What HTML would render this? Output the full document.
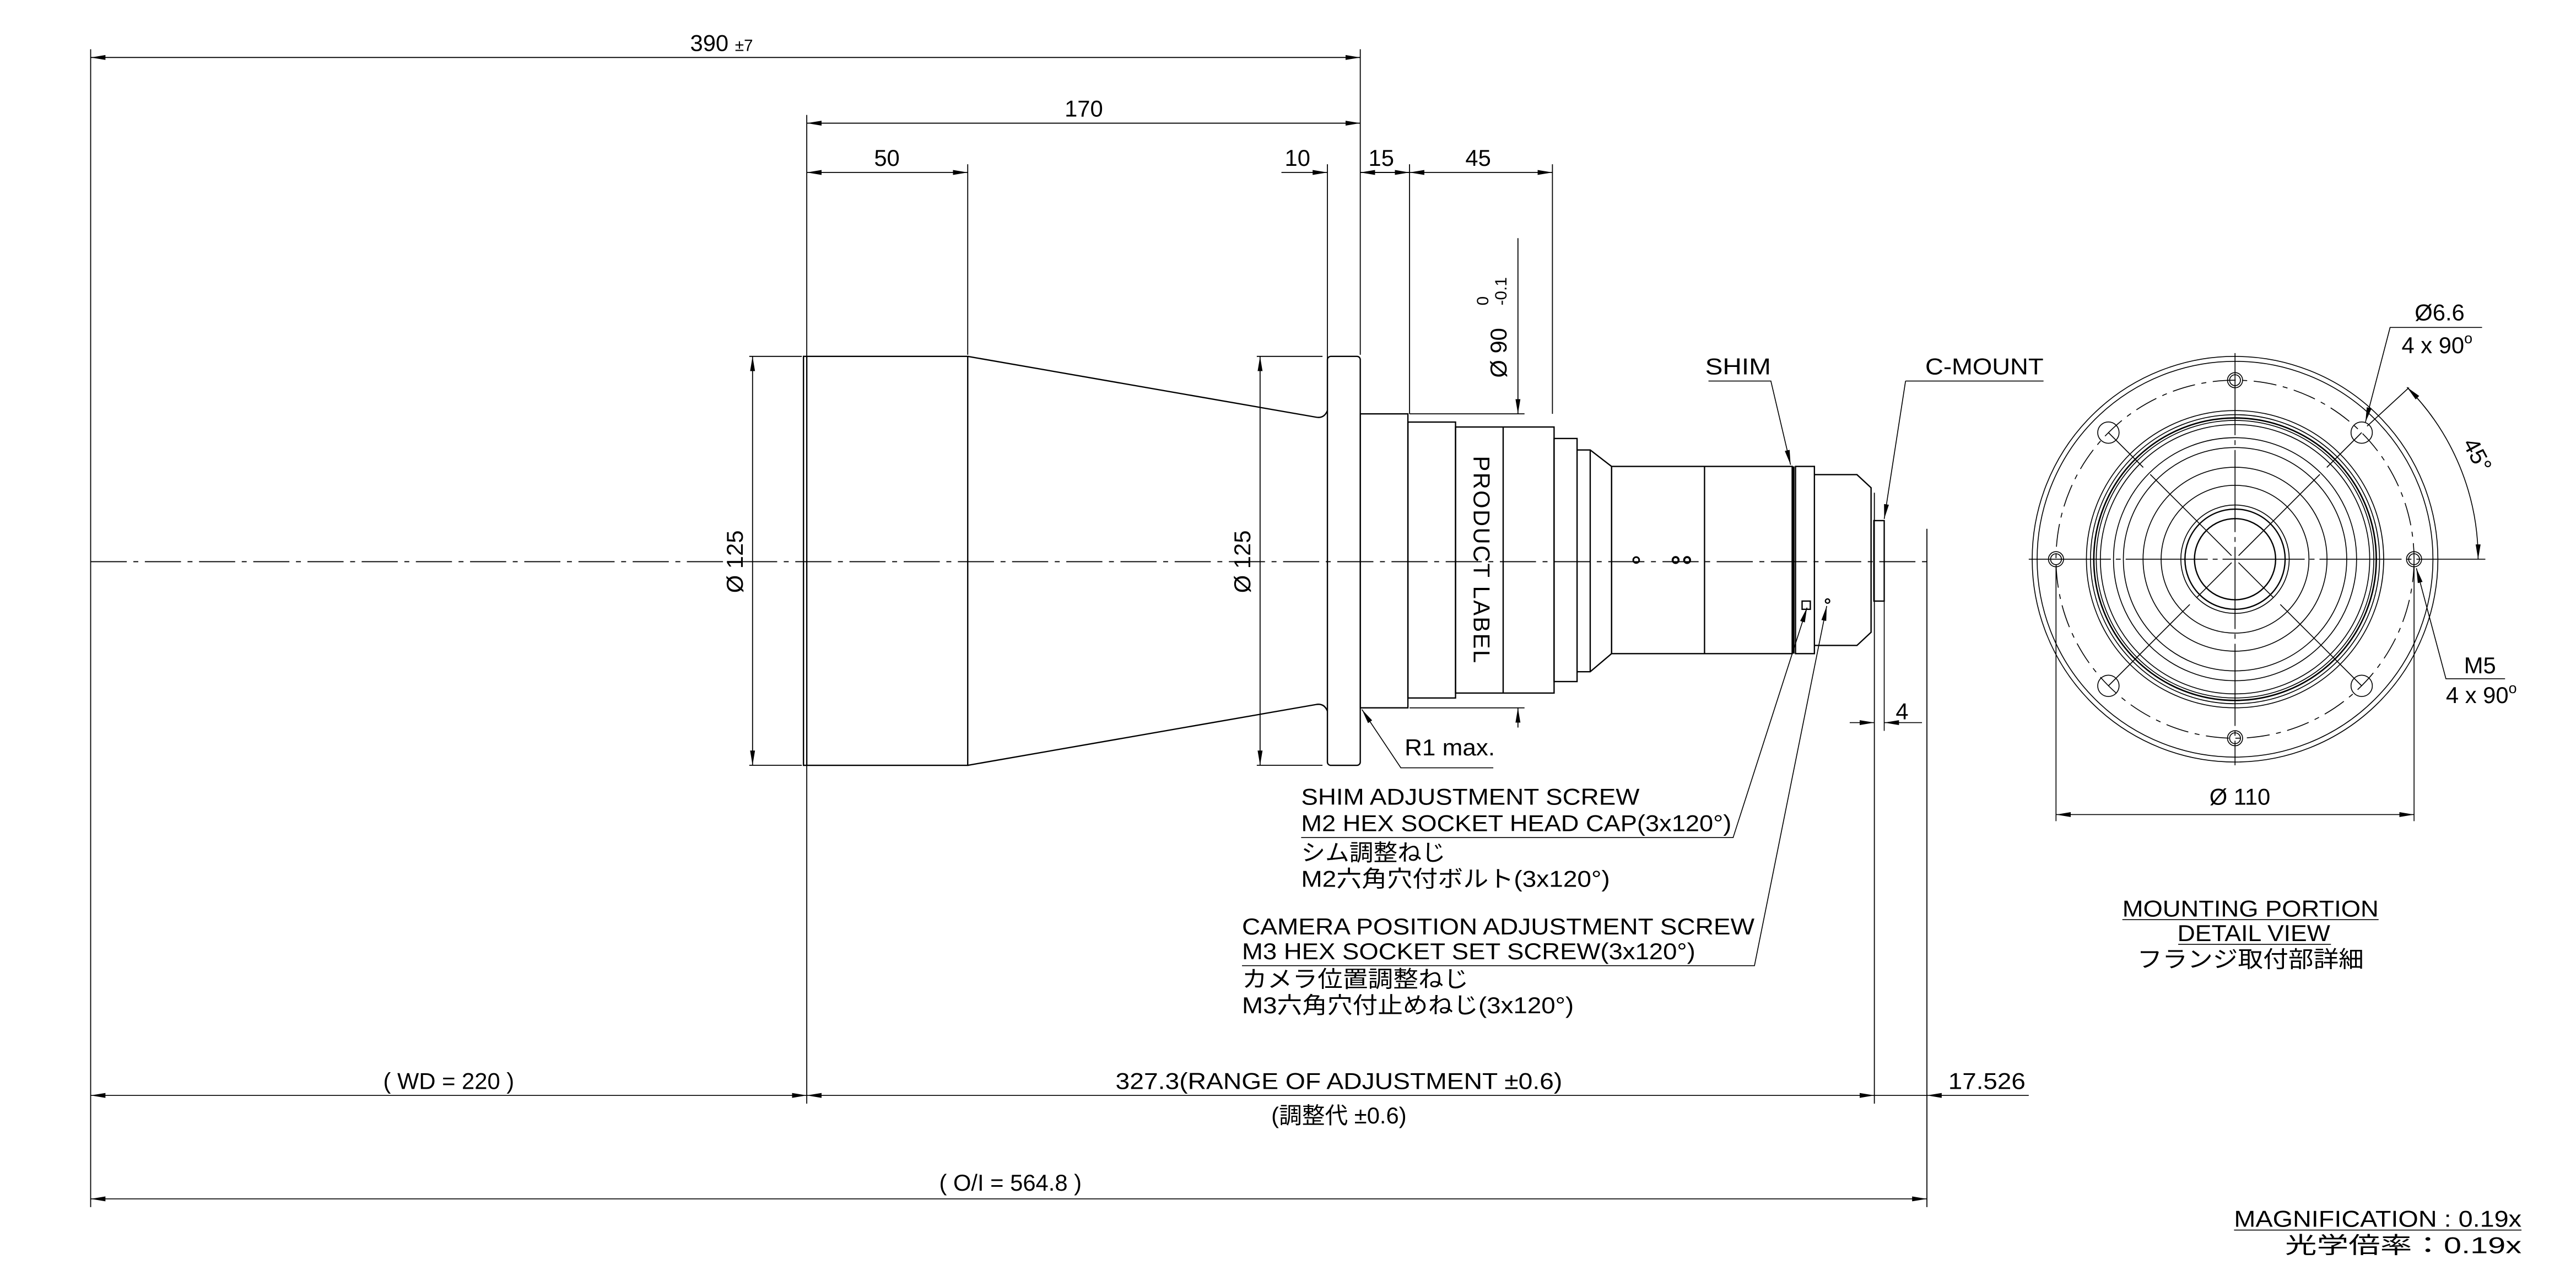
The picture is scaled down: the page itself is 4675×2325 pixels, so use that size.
<!DOCTYPE html>
<html><head><meta charset="utf-8"><style>
html,body{margin:0;padding:0;background:#fff;}
svg{display:block;}
text{font-family:"Liberation Sans","Noto Sans CJK JP",sans-serif;fill:#000;}
</style></head><body>
<svg xmlns="http://www.w3.org/2000/svg" width="4675" height="2325" viewBox="0 0 1568 780">
<defs>
<marker id="a" markerUnits="userSpaceOnUse" markerWidth="10" markerHeight="4" refX="9" refY="2" orient="auto-start-reverse"><path d="M0,0.5 L9,2 L0,3.5 Z" fill="#000"/></marker>
</defs>
<rect width="1568" height="780" fill="#fff"/>
<g stroke="#000" stroke-width="0.6" fill="none">
<line x1="55" y1="342" x2="1175" y2="342" stroke-dasharray="22,4,3,4"/>
<line x1="55" y1="30" x2="55" y2="735"/>
<line x1="828" y1="30" x2="828" y2="216"/>
<line x1="491" y1="70" x2="491" y2="672"/>
<line x1="589" y1="100" x2="589" y2="216"/>
<line x1="808" y1="100" x2="808" y2="250"/>
<line x1="858" y1="100" x2="858" y2="252"/>
<line x1="945" y1="100" x2="945" y2="252"/>
<line x1="1141" y1="300" x2="1141" y2="672"/>
<line x1="1173" y1="322" x2="1173" y2="735"/>
<line x1="55" y1="35" x2="828" y2="35" marker-start="url(#a)" marker-end="url(#a)"/>
<line x1="491" y1="75" x2="828" y2="75" marker-start="url(#a)" marker-end="url(#a)"/>
<line x1="491" y1="105" x2="589" y2="105" marker-start="url(#a)" marker-end="url(#a)"/>
<line x1="780" y1="105" x2="808" y2="105" marker-end="url(#a)"/>
<line x1="828" y1="105" x2="845" y2="105" marker-start="url(#a)"/>
<line x1="828" y1="105" x2="858" y2="105"/>
<line x1="858" y1="105" x2="945" y2="105" marker-start="url(#a)" marker-end="url(#a)"/>
<line x1="845" y1="105" x2="858" y2="105" marker-end="url(#a)"/>
<line x1="456" y1="217" x2="488" y2="217"/><line x1="456" y1="466" x2="488" y2="466"/>
<line x1="458" y1="217" x2="458" y2="466" marker-start="url(#a)" marker-end="url(#a)"/>
<line x1="765" y1="217" x2="805" y2="217"/><line x1="765" y1="466" x2="805" y2="466"/>
<line x1="767" y1="217" x2="767" y2="466" marker-start="url(#a)" marker-end="url(#a)"/>
<line x1="858" y1="252" x2="928" y2="252"/><line x1="858" y1="431" x2="928" y2="431"/>
<line x1="924" y1="145" x2="924" y2="252" marker-end="url(#a)"/>
<line x1="924" y1="431" x2="924" y2="443" marker-start="url(#a)"/>
</g>
<g stroke="#000" stroke-width="0.8" fill="none">
<path d="M489,217 H589 V466 H489 Z"/>
<line x1="491" y1="217" x2="491" y2="466"/>
<path d="M589,217 L801,254 Q806,255 808,250"/>
<path d="M589,466 L801,429 Q806,428 808,433"/>
<rect x="808" y="217" width="20" height="249" rx="2"/>
<rect x="828" y="252" width="29" height="179"/>
<rect x="857" y="257" width="29" height="168"/>
<rect x="886" y="260" width="60" height="162"/>
<line x1="915" y1="260" x2="915" y2="422"/>
<rect x="946" y="267" width="14" height="148"/>
<path d="M960,274 H968 L981,284 V398 L968,409 H960"/>
<line x1="968" y1="274" x2="968" y2="409"/>
<rect x="981" y="284" width="110" height="114"/>
<line x1="1037.6" y1="284" x2="1037.6" y2="398"/>
<rect x="1093" y="284" width="11.5" height="114"/>
<line x1="1091.5" y1="284" x2="1091.5" y2="398" stroke-width="1.8"/>
<path d="M1104.5,289 H1130.4 L1139,297 V385 L1130.4,393 H1104.5"/>
<rect x="1140.7" y="317" width="6.3" height="49"/>
<circle cx="996" cy="341" r="1.8" stroke-width="1"/><circle cx="1020" cy="341" r="1.8" stroke-width="1.2"/><circle cx="1027" cy="341" r="1.8" stroke-width="1.2"/>
<circle cx="1112.5" cy="366" r="1.3"/>
<rect x="1097" y="366" width="5" height="5"/>
</g>
<g stroke="#000" stroke-width="0.55" fill="none">
<polyline points="909,467.5 852.7,467.5 829,432" marker-end="url(#a)"/>
<polyline points="1040,232 1078,232 1090,283" marker-end="url(#a)"/>
<polyline points="1160,232 1244,232"/>
<polyline points="1160,232 1147,316" marker-end="url(#a)"/>
<polyline points="792,510 1055,510 1100,370" marker-end="url(#a)"/>
<polyline points="756,588 1068,588 1112,369" marker-end="url(#a)"/>
<line x1="1126" y1="440" x2="1141" y2="440" marker-end="url(#a)"/>
<line x1="1147" y1="440" x2="1170" y2="440" marker-start="url(#a)"/>
<line x1="1147" y1="366" x2="1147" y2="445"/>
<line x1="55" y1="667" x2="491" y2="667" marker-start="url(#a)" marker-end="url(#a)"/>
<line x1="491" y1="667" x2="1141" y2="667" marker-start="url(#a)" marker-end="url(#a)"/>
<line x1="1141" y1="667" x2="1173" y2="667"/>
<line x1="1173" y1="667" x2="1235" y2="667" marker-start="url(#a)"/>
<line x1="55" y1="730" x2="1173" y2="730" marker-start="url(#a)" marker-end="url(#a)"/>
<line x1="1292" y1="560" x2="1448" y2="560"/>
<line x1="1326" y1="575" x2="1419" y2="575"/>
<line x1="1360" y1="749" x2="1535" y2="749"/>
</g>
<g stroke="#000" stroke-width="0.55" fill="none">
<circle cx="1360.6" cy="340.5" r="123.5"/>
<circle cx="1360.6" cy="340.5" r="120.5"/>
<circle cx="1360.6" cy="340.5" r="109" stroke-dasharray="14,4,3,4"/>
<circle cx="1360.6" cy="340.5" r="90.5"/>
<circle cx="1360.6" cy="340.5" r="88"/>
<circle cx="1360.6" cy="340.5" r="86" stroke-width="0.9"/>
<circle cx="1360.6" cy="340.5" r="84.5"/>
<circle cx="1360.6" cy="340.5" r="82"/>
<circle cx="1360.6" cy="340.5" r="74"/>
<circle cx="1360.6" cy="340.5" r="68"/>
<circle cx="1360.6" cy="340.5" r="56"/>
<circle cx="1360.6" cy="340.5" r="45"/>
<circle cx="1360.6" cy="340.5" r="33"/>
<circle cx="1360.6" cy="340.5" r="30.5" stroke-width="0.8"/>
<circle cx="1360.6" cy="340.5" r="24.7" stroke-width="0.8"/>
<line x1="1235" y1="340.5" x2="1487" y2="340.5" stroke-dasharray="50,3,3,3"/>
<line x1="1360.6" y1="215" x2="1360.6" y2="466" stroke-dasharray="50,3,3,3"/>
<line x1="1283.5" y1="263.4" x2="1437.7" y2="417.6" stroke-dasharray="30,6,70,6"/>
<line x1="1437.7" y1="263.4" x2="1283.5" y2="417.6" stroke-dasharray="30,6,70,6"/>
<circle cx="1360.6" cy="231.5" r="4.6"/><circle cx="1360.6" cy="231.5" r="3.3"/>
<circle cx="1360.6" cy="449.5" r="4.6"/><circle cx="1360.6" cy="449.5" r="3.3"/>
<circle cx="1251.6" cy="340.5" r="4.6"/><circle cx="1251.6" cy="340.5" r="3.3"/>
<circle cx="1469.6" cy="340.5" r="4.6"/><circle cx="1469.6" cy="340.5" r="3.3"/>
<circle cx="1283.5" cy="263.4" r="6.5"/><circle cx="1437.7" cy="263.4" r="6.5"/>
<circle cx="1283.5" cy="417.6" r="6.5"/><circle cx="1437.7" cy="417.6" r="6.5"/>
<line x1="1251.6" y1="345" x2="1251.6" y2="500"/>
<line x1="1469.6" y1="345" x2="1469.6" y2="500"/>
<line x1="1251.6" y1="496" x2="1469.6" y2="496" marker-start="url(#a)" marker-end="url(#a)"/>
<line x1="1441" y1="259.5" x2="1466.5" y2="236"/>
<line x1="1487" y1="340.5" x2="1513" y2="340.5"/>
<path d="M1465.3,235.8 A148,148 0 0 1 1508.6,340.5" marker-start="url(#a)" marker-end="url(#a)"/>
<polyline points="1511,199.4 1455,199.4 1440,257" marker-end="url(#a)"/>
<polyline points="1525,413.3 1489,413.3 1471,346" marker-end="url(#a)"/>
</g>
<g font-size="14">
<text x="420" y="31">390 <tspan font-size="10">±7</tspan></text>
<text x="648" y="71">170</text>
<text x="532" y="101">50</text>
<text x="782" y="101">10</text>
<text x="833" y="101">15</text>
<text x="892" y="101">45</text>
<text transform="translate(452,342) rotate(-90)" text-anchor="middle">Ø 125</text>
<text transform="translate(761,342) rotate(-90)" text-anchor="middle">Ø 125</text>
<text transform="translate(917,230) rotate(-90)">Ø 90</text>
<text transform="translate(906,186) rotate(-90)" font-size="10">0</text>
<text transform="translate(917,186) rotate(-90)" font-size="10">-0.1</text>
<text transform="translate(897,341) rotate(90)" text-anchor="middle" font-size="14" letter-spacing="0.8">PRODUCT LABEL</text>
<text x="855" y="460" textLength="55" lengthAdjust="spacingAndGlyphs">R1 max.</text>
<text x="1038" y="228" textLength="40" lengthAdjust="spacingAndGlyphs">SHIM</text>
<text x="1172" y="228" textLength="72" lengthAdjust="spacingAndGlyphs">C-MOUNT</text>
<text x="1154" y="438">4</text>
<text x="792" y="490" textLength="206" lengthAdjust="spacingAndGlyphs">SHIM ADJUSTMENT SCREW</text>
<text x="792" y="506" textLength="262" lengthAdjust="spacingAndGlyphs">M2 HEX SOCKET HEAD CAP(3x120°)</text>
<text x="792" y="524" textLength="88" lengthAdjust="spacingAndGlyphs">シム調整ねじ</text>
<text x="792" y="540" textLength="188" lengthAdjust="spacingAndGlyphs">M2六角穴付ボルト(3x120°)</text>
<text x="756" y="569" textLength="312" lengthAdjust="spacingAndGlyphs">CAMERA POSITION ADJUSTMENT SCREW</text>
<text x="756" y="584" textLength="276" lengthAdjust="spacingAndGlyphs">M3 HEX SOCKET SET SCREW(3x120°)</text>
<text x="756" y="601" textLength="138" lengthAdjust="spacingAndGlyphs">カメラ位置調整ねじ</text>
<text x="756" y="617" textLength="202" lengthAdjust="spacingAndGlyphs">M3六角穴付止めねじ(3x120°)</text>
<text x="1370" y="558" text-anchor="middle" textLength="156" lengthAdjust="spacingAndGlyphs">MOUNTING PORTION</text>
<text x="1372" y="573" text-anchor="middle" textLength="93" lengthAdjust="spacingAndGlyphs">DETAIL VIEW</text>
<text x="1370" y="589" text-anchor="middle" textLength="138" lengthAdjust="spacingAndGlyphs">フランジ取付部詳細</text>
<text x="273" y="663" text-anchor="middle">( WD = 220 )</text>
<text x="815" y="663" text-anchor="middle" textLength="272" lengthAdjust="spacingAndGlyphs">327.3(RANGE OF ADJUSTMENT ±0.6)</text>
<text x="815" y="684" text-anchor="middle">(調整代 ±0.6)</text>
<text x="1186" y="663" textLength="47" lengthAdjust="spacingAndGlyphs">17.526</text>
<text x="615" y="725" text-anchor="middle">( O/I = 564.8 )</text>
<text x="1360" y="747" textLength="175" lengthAdjust="spacingAndGlyphs">MAGNIFICATION : 0.19x</text>
<text x="1391" y="763" textLength="144" lengthAdjust="spacingAndGlyphs">光学倍率：0.19x</text>
<text x="1470" y="195">Ø6.6</text>
<text x="1462" y="215">4  x 90<tspan font-size="9" dy="-6">o</tspan></text>
<text x="1500" y="410">M5</text>
<text x="1489" y="428">4  x 90<tspan font-size="9" dy="-6">o</tspan></text>
<text x="1345" y="490">Ø 110</text>
<text transform="translate(1499,270) rotate(62)">45°</text>
</g>
</svg>
</body></html>
